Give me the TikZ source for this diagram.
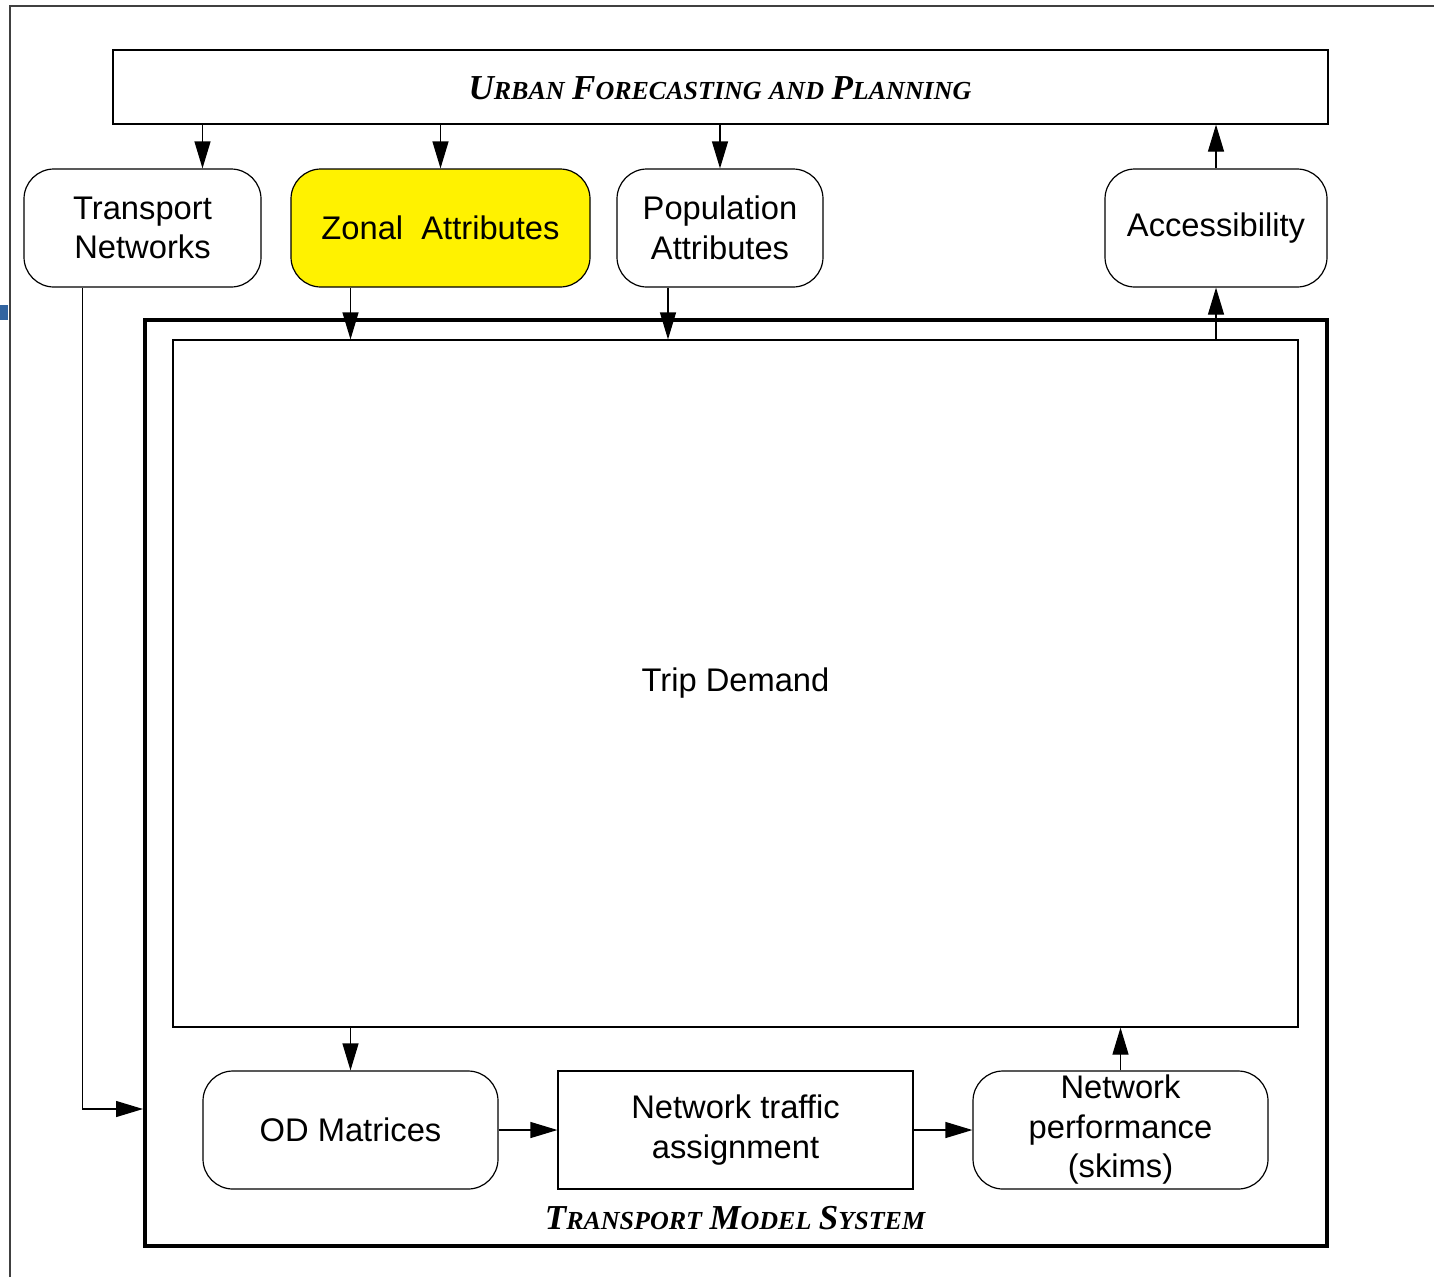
\documentclass[tikz,border=0pt]{standalone}
\usepackage{fontspec}
\setmainfont{Liberation Sans}
\newfontfamily\titlefont{Liberation Serif}
\usetikzlibrary{arrows.meta,positioning,calc}
\definecolor{edgeblue}{RGB}{50,100,160}
\newcommand{\capsc}[2]{{\fontsize{35}{40}\selectfont #1}{\fontsize{26}{30}\selectfont #2}}

\begin{document}
\begin{tikzpicture}[
			x = 1pt, y = -1pt,
			every node/.style = {font = \fontsize{32.7}{39.5}\selectfont, align = center, inner sep = 0pt},
			box/.style = {draw, line width = 1.2pt},
			rbox/.style = {box, rounded corners = 30pt},
			arr/.style = {line width = 1.2pt, -{Triangle[length = 27pt, width = 16pt]}},
			heading/.style = {font = \titlefont\bfseries\itshape\fontsize{30}{36}\selectfont}
			]

			\useasboundingbox (0,0) rectangle (1434,1277);
			\draw[line width = 1.2pt, black!75] (10,1277) -- (10,6) -- (1434,6);
			\fill[edgeblue] (0,305) rectangle (8,320);

			% top row
			\node[box, minimum width = 1215pt, minimum height = 74pt] (urban) at (720.5,87) {};
			\node[heading] (urbantxt) at (720,88)
				{\capsc{U}{RBAN}\ \capsc{F}{ORECASTING}\ \capsc{}{AND}\ \capsc{P}{LANNING}};
			\node[rbox, minimum width = 237pt, minimum height = 118pt] (tn) at (142.5,228)
				{Transport\\Networks};
			\node[rbox, fill = yellow, minimum width = 299pt, minimum height = 118pt] (zonal) at (440.5,228)
				{Zonal\ \ Attributes};
			\node[rbox, minimum width = 206pt, minimum height = 118pt] (pop) at (720,228)
				{Population\\Attributes};
			\node[rbox, minimum width = 222pt, minimum height = 118pt] (acc) at (1216,228)
				{Accessibility};

			% model system
			\node[draw, line width = 4pt, minimum width = 1182pt, minimum height = 926pt] (frame) at (736,783) {};
			\node[box, minimum width = 1125pt, minimum height = 687pt] (td) at (735.5,683.5)
				{Trip Demand};
			\node[rbox, minimum width = 295pt, minimum height = 118pt] (od) at (350.5,1130)
				{OD Matrices};
			\node[box, minimum width = 355pt, minimum height = 118pt] (nta) at (735.5,1130)
				{Network traffic\\assignment};
			\node[rbox, minimum width = 295pt, minimum height = 118pt] (np) at (1120.5,1130)
				{Network\\performance\\(skims)};
			\node[heading] (tms) at (735,1218)
				{\capsc{T}{RANSPORT}\ \capsc{M}{ODEL}\ \capsc{S}{YSTEM}};

			% connectors
			\coordinate (tnin) at ($(tn.north)+(60,0)$);
			\coordinate (tnout) at ($(tn.south)+(-60,0)$);
			\coordinate (popout) at ($(pop.south)+(-52,0)$);

			\draw[arr] (tnin |- urban.south) -- (tnin);
			\draw[arr] (zonal.north |- urban.south) -- (zonal.north);
			\draw[arr] (pop.north |- urban.south) -- (pop.north);
			\draw[arr] (acc.north) -- (acc.north |- urban.south);

			\draw[arr] (zonal.south -| od.north) -- (td.north -| od.north);
			\draw[arr] (popout) -- (popout |- td.north);
			\draw[arr] (td.north -| acc.south) -- (acc.south);

			\draw[arr] (tnout) |- ($(frame.west |- od.west)+(0,-21)$);
			\draw[arr] (td.south -| od.north) -- (od.north);
			\draw[arr] (od.east) -- (nta.west);
			\draw[arr] (nta.east) -- (np.west);
			\draw[arr] (np.north) -- (np.north |- td.south);

		\end{tikzpicture}
\end{document}
